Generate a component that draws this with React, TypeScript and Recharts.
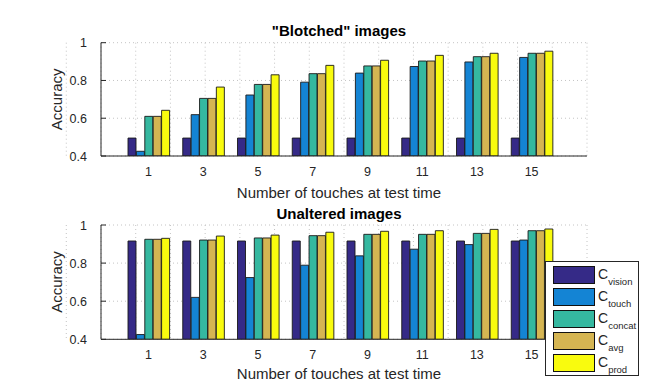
import React from 'react';
import { BarChart, Bar, XAxis, YAxis, CartesianGrid, Legend } from 'recharts';

// Number of touches at test time (category labels)
const touches = ['1', '3', '5', '7', '9', '11', '13', '15'];

// "Blotched" images
const blotchedVision = [0.495, 0.495, 0.495, 0.495, 0.495, 0.495, 0.495, 0.495];
const blotchedTouch = [0.425, 0.619, 0.723, 0.791, 0.839, 0.874, 0.898, 0.922];
const blotchedConcat = [0.61, 0.705, 0.779, 0.836, 0.877, 0.903, 0.926, 0.944];
const blotchedAvg = [0.61, 0.705, 0.779, 0.836, 0.877, 0.903, 0.926, 0.944];
const blotchedProd = [0.642, 0.765, 0.83, 0.88, 0.907, 0.933, 0.944, 0.955];

// Unaltered images
const unalteredVision = [0.916, 0.916, 0.916, 0.916, 0.916, 0.916, 0.916, 0.916];
const unalteredTouch = [0.425, 0.62, 0.724, 0.789, 0.838, 0.873, 0.897, 0.921];
const unalteredConcat = [0.925, 0.921, 0.932, 0.944, 0.951, 0.951, 0.956, 0.97];
const unalteredAvg = [0.925, 0.921, 0.932, 0.944, 0.951, 0.951, 0.956, 0.97];
const unalteredProd = [0.93, 0.942, 0.947, 0.962, 0.967, 0.97, 0.977, 0.979];

const yTicks = [0.4, 0.6, 0.8, 1];
const yGridTicks = [0.4, 0.5, 0.6, 0.7, 0.8, 0.9, 1];
const xGridTicks = [
  -0.5, 0, 0.5, 1, 1.5, 2, 2.5, 3, 3.5, 4, 4.5, 5, 5.5, 6, 6.5, 7, 7.5, 8, 8.5,
  9, 9.5, 10, 10.5, 11, 11.5, 12, 12.5, 13, 13.5, 14, 14.5, 15, 15.5, 16, 16.5, 17,
];
const xDomain = [-0.72, 17.02];

const seriesKeys = ['vision', 'touch', 'concat', 'avg', 'prod'];
const seriesColors = ['#352a87', '#1484d4', '#35b8a0', '#d5b552', '#f9fb0e'];

const FONT = '"Liberation Sans", Arial, Helvetica, sans-serif';
const INK = '#262626';

function buildRows(cols: number[][]) {
  return touches.map((t, i) => {
    const row: Record<string, string | number> = { touches: t };
    seriesKeys.forEach((k, s) => {
      row[k] = cols[s][i];
    });
    return row;
  });
}

const blotchedData = buildRows([blotchedVision, blotchedTouch, blotchedConcat, blotchedAvg, blotchedProd]);
const unalteredData = buildRows([unalteredVision, unalteredTouch, unalteredConcat, unalteredAvg, unalteredProd]);

const YTick = (props: any) => {
  const { x, y, payload } = props;
  return (
    <g>
      <text x={x} y={y} dy={4.5} textAnchor="end" fontSize={12.5} fontFamily={FONT} fill={INK}>
        {String(payload.value)}
      </text>
      <line x1={x + 14} x2={x + 19} y1={y} y2={y} stroke={INK} strokeWidth={1} />
    </g>
  );
};

const XTick = (props: any) => {
  const { x, y, payload } = props;
  return (
    <text x={x} y={y} dy={9} textAnchor="middle" fontSize={12.5} fontFamily={FONT} fill={INK}>
      {payload.value}
    </text>
  );
};

const LegendBox = (props: any) => {
  const items = [...(props.payload || [])].sort(
    (a: any, b: any) => seriesKeys.indexOf(a.value) - seriesKeys.indexOf(b.value)
  );
  return (
    <svg width={94} height={115} style={{ display: 'block' }}>
      <rect x={0.5} y={0.5} width={93} height={114} fill="#fff" stroke={INK} strokeWidth={1} />
      {items.map((it: any, i: number) => (
        <g key={i} transform={`translate(0, ${5 + i * 22})`}>
          <rect x={8.5} y={0.5} width={41} height={17} fill={it.color} stroke="#111" strokeWidth={1} />
          <text x={53} y={12.5} fontFamily={FONT} fill={INK}>
            <tspan fontSize={14}>C</tspan>
            <tspan fontSize={9.5} dy={6}>{it.value}</tspan>
          </text>
        </g>
      ))}
    </svg>
  );
};

type PanelProps = {
  data: Record<string, string | number>[];
  title: string;
  top: number;
  height: number;
  marginTop: number;
  xAxisHeight: number;
  titleY: number;
  xLabelY: number;
  yLabelY: number;
  legend?: boolean;
};

function Panel(p: PanelProps) {
  return (
    <div style={{ position: 'absolute', left: 0, top: p.top }}>
      <BarChart
        width={648}
        height={p.height}
        data={p.data}
        margin={{ top: p.marginTop, right: 61, bottom: 0, left: 0 }}
        barSize={8}
        barGap={0.4}
      >
        <XAxis xAxisId="grid" type="number" domain={xDomain} ticks={xGridTicks} hide allowDataOverflow />
        <YAxis yAxisId="grid" type="number" domain={[0.4, 1]} ticks={yGridTicks} hide allowDataOverflow />
        <CartesianGrid
          xAxisId="grid"
          yAxisId="grid"
          stroke="#c4c4c4"
          strokeDasharray="1 3"
          strokeWidth={1}
        />
        <XAxis
          dataKey="touches"
          height={p.xAxisHeight}
          padding={{ left: 20, right: 28 }}
          tickLine={false}
          tickSize={0}
          tickMargin={11}
          tick={XTick}
          axisLine={{ stroke: INK, strokeWidth: 1 }}
          interval={0}
        />
        <YAxis
          type="number"
          domain={[0.4, 1]}
          ticks={yTicks}
          width={101}
          tickLine={false}
          tickSize={0}
          tickMargin={14}
          tick={YTick}
          axisLine={{ stroke: INK, strokeWidth: 1 }}
          allowDataOverflow
        />
        {seriesKeys.map((k, i) => (
          <Bar
            key={k}
            dataKey={k}
            name={k}
            fill={seriesColors[i]}
            stroke="#1a1a1a"
            strokeWidth={0.9}
            isAnimationActive={false}
          />
        ))}
        {p.legend ? (
          <Legend
            layout="vertical"
            align="center"
            verticalAlign="middle"
            content={LegendBox}
            wrapperStyle={{ left: 545, top: 59, width: 94, height: 115 }}
          />
        ) : null}
        <text
          x={339}
          y={p.titleY}
          textAnchor="middle"
          fontSize={15}
          fontWeight="bold"
          fontFamily={FONT}
          fill="#000"
        >
          {p.title}
        </text>
        <text x={339} y={p.xLabelY} textAnchor="middle" fontSize={15} fontFamily={FONT} fill={INK}>
          Number of touches at test time
        </text>
        <text
          transform={`translate(61.5, ${p.yLabelY}) rotate(-90)`}
          textAnchor="middle"
          fontSize={15}
          fontFamily={FONT}
          fill={INK}
        >
          Accuracy
        </text>
      </BarChart>
    </div>
  );
}

export default function App() {
  return (
    <div
      style={{
        position: 'absolute',
        left: 0,
        top: 0,
        width: 648,
        height: 387,
        background: '#fff',
        overflow: 'hidden',
      }}
    >
      <Panel
        data={blotchedData}
        title={'"Blotched" images'}
        top={0}
        height={202}
        marginTop={42.7}
        xAxisHeight={46}
        titleY={36}
        xLabelY={197.5}
        yLabelY={99.3}
      />
      <Panel
        data={unalteredData}
        title="Unaltered images"
        top={202}
        height={185}
        marginTop={23}
        xAxisHeight={47.7}
        titleY={17}
        xLabelY={177}
        yLabelY={80}
        legend
      />
    </div>
  );
}
